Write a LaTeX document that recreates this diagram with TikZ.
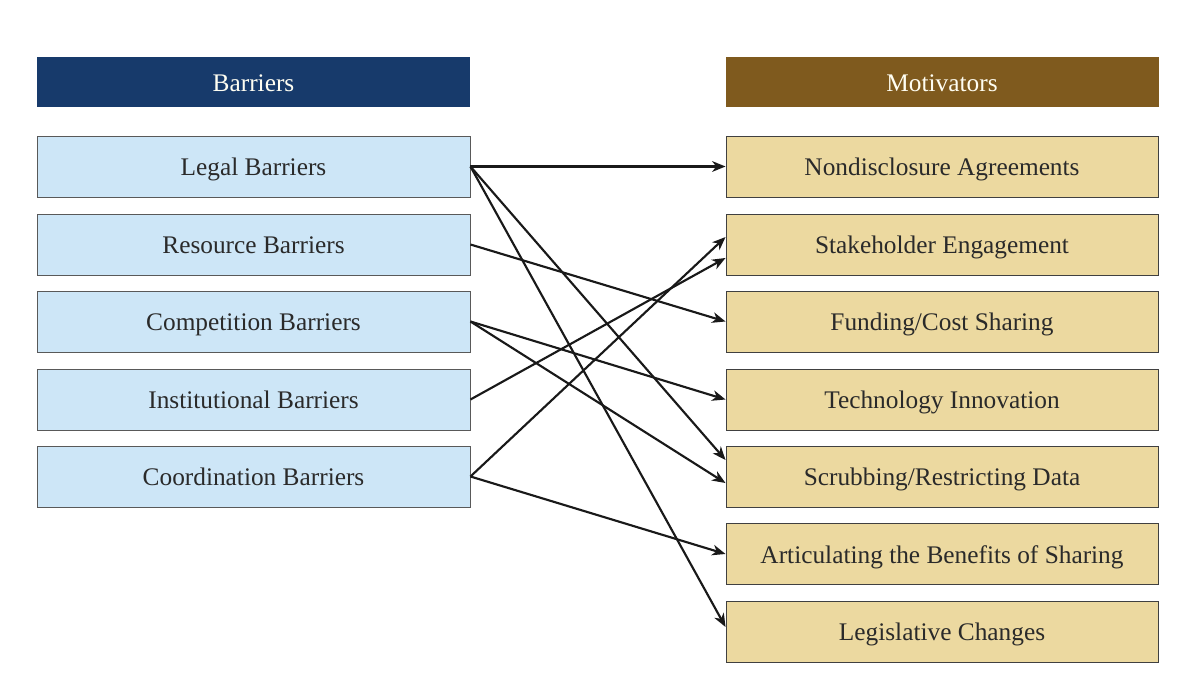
\documentclass[tikz,border=0pt]{standalone}
\usepackage{fontspec}
\setmainfont{Liberation Serif}
\usetikzlibrary{arrows.meta}
\definecolor{navy}{HTML}{173A6B}
\definecolor{brownhd}{HTML}{7F5A1E}
\definecolor{lblue}{HTML}{CDE6F7}
\definecolor{tan}{HTML}{ECD9A0}
\definecolor{txt}{HTML}{2A2A2A}
\tikzset{
  boxtext/.style={text height=14.5pt, text depth=1pt, font=\fontsize{19}{22}\selectfont},
  hdr/.style={boxtext, minimum width=324.75pt, minimum height=37.5pt, inner sep=0pt, text=white!95!yellow},
  barrier/.style={boxtext, draw=gray!70!black, fill=lblue, line width=0.7pt, minimum width=324.75pt, minimum height=45.75pt, inner sep=0pt, text=txt},
  motiv/.style={boxtext, draw=black!75, fill=tan, line width=0.7pt, minimum width=324pt, minimum height=45.75pt, inner sep=0pt, text=txt},
  link/.style={-{Stealth[length=10pt,width=8pt,inset=3pt]}, line width=1.6pt, black!90}
}
\begin{document}
\begin{tikzpicture}[x=0.75pt,y=-0.75pt]
\useasboundingbox (0,0) rectangle (1200,675);
\node[hdr, fill=navy] (bh) at (253.5,82) {Barriers};
\node[hdr, fill=brownhd] (mh) at (942,82) {Motivators};
\node[barrier] (b1) at (253.5,166.5) {Legal Barriers};
\node[barrier] (b2) at (253.5,244.5) {Resource Barriers};
\node[barrier] (b3) at (253.5,321.5) {Competition Barriers};
\node[barrier] (b4) at (253.5,399.5) {Institutional Barriers};
\node[barrier] (b5) at (253.5,476.5) {Coordination Barriers};
\node[motiv] (m1) at (942,166.5) {Nondisclosure Agreements};
\node[motiv] (m2) at (942,244.5) {Stakeholder Engagement};
\node[motiv] (m3) at (942,321.5) {Funding/Cost Sharing};
\node[motiv] (m4) at (942,399.5) {Technology Innovation};
\node[motiv] (m5) at (942,476.5) {Scrubbing/Restricting Data};
\node[motiv] (m6) at (942,554) {Articulating the Benefits of Sharing};
\node[motiv] (m7) at (942,631.5) {Legislative Changes};
\draw[link] (b1.east) -- (m1.west);
\draw[link] (b1.east) -- ([yshift=12.4pt]m5.west);
\draw[link] (b1.east) -- ([yshift=3.4pt]m7.west);
\draw[link] (b2.east) -- (m3.west);
\draw[link] (b3.east) -- (m4.west);
\draw[link] (b3.east) -- ([yshift=-4.9pt]m5.west);
\draw[link] (b4.east) -- ([yshift=-10.1pt]m2.west);
\draw[link] (b5.east) -- ([yshift=5.6pt]m2.west);
\draw[link] (b5.east) -- (m6.west);
\end{tikzpicture}
\end{document}
